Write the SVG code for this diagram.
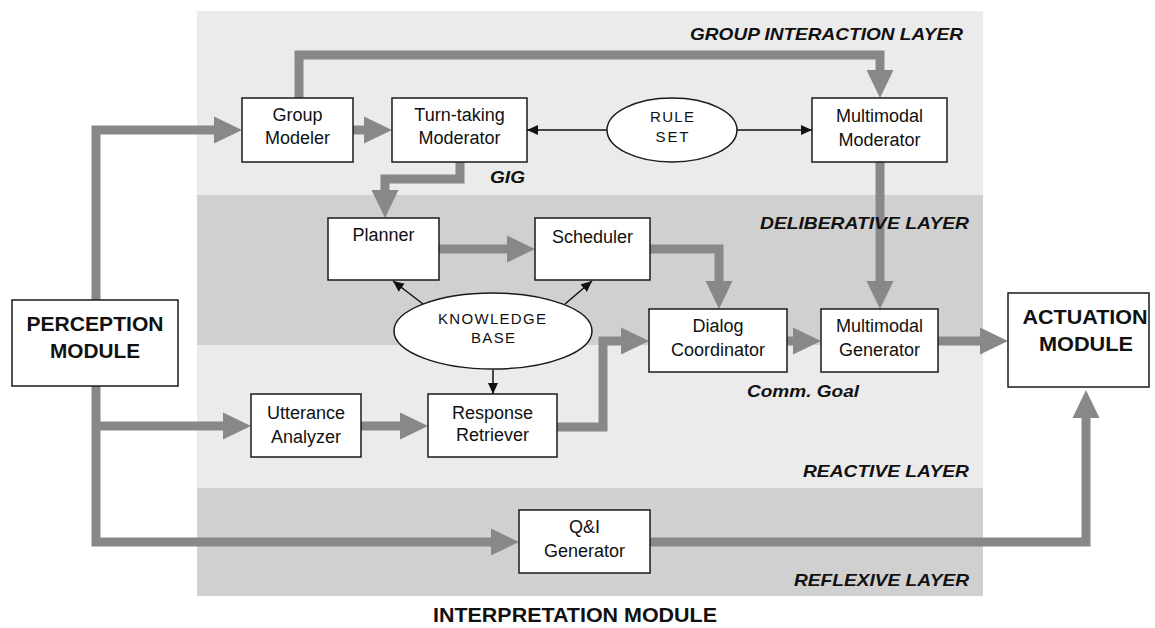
<svg xmlns="http://www.w3.org/2000/svg" width="1155" height="628" viewBox="0 0 1155 628">
<style>
.bg-light{fill:#ebebeb}
.bg-dark{fill:#d0d0d0}
.box{fill:#fff;stroke:#1a1a1a;stroke-width:1.5}
.n{font-family:"Liberation Sans",Arial,sans-serif;font-size:18px;fill:#111;text-anchor:middle}
.e{font-family:"Liberation Sans",Arial,sans-serif;font-size:15px;fill:#111;text-anchor:middle}
.m{font-family:"Liberation Sans",Arial,sans-serif;font-size:20px;font-weight:bold;fill:#111;text-anchor:middle}
.l{font-family:"Liberation Sans",Arial,sans-serif;font-size:17px;font-weight:bold;font-style:italic;fill:#111;text-anchor:end}
.thick{fill:none;stroke:#888;stroke-width:9;stroke-linejoin:miter}
.thin{fill:none;stroke:#111;stroke-width:1.5}
</style>
<defs>
<marker id="ah" markerUnits="userSpaceOnUse" markerWidth="28" markerHeight="28" viewBox="0 -14 28 28" refX="1" refY="0" orient="auto">
<path d="M0,-13.5 L28,0 L0,13.5 z" fill="#888"/>
</marker>
<marker id="sh" markerUnits="userSpaceOnUse" markerWidth="11" markerHeight="11" viewBox="0 -5.5 11 11" refX="11" refY="0" orient="auto">
<path d="M0,-5 L11,0 L0,5 z" fill="#111"/>
</marker>
</defs>
<rect width="1155" height="628" fill="#fff"/>
<g id="layers">
<rect class="bg-light" x="197" y="11" width="786" height="184"/>
<rect class="bg-dark" x="197" y="195" width="786" height="150"/>
<rect class="bg-light" x="197" y="345" width="786" height="143"/>
<rect class="bg-dark" x="197" y="488" width="786" height="108"/>
</g>
<g id="connectors">
<path class="thick" d="M96,300 V130 H215" marker-end="url(#ah)"/>
<path class="thick" d="M96,386 V542 H492" marker-end="url(#ah)"/>
<path class="thick" d="M96,426 H224" marker-end="url(#ah)"/>
<path class="thick" d="M650,542 H1086 V417" marker-end="url(#ah)"/>
<path class="thick" d="M353,130 H365" marker-end="url(#ah)"/>
<path class="thick" d="M299,98 V55 H880 V71" marker-end="url(#ah)"/>
<path class="thick" d="M460,162 V179 H385 V191" marker-end="url(#ah)"/>
<path class="thick" d="M880,162 V282" marker-end="url(#ah)"/>
<path class="thick" d="M439,249 H508" marker-end="url(#ah)"/>
<path class="thick" d="M650,249 H719 V282" marker-end="url(#ah)"/>
<path class="thick" d="M557,427 H603 V341 H622" marker-end="url(#ah)"/>
<path class="thick" d="M787,341 H794" marker-end="url(#ah)"/>
<path class="thick" d="M938,341 H981" marker-end="url(#ah)"/>
<path class="thick" d="M361,426 H401" marker-end="url(#ah)"/>
<path class="thin" d="M607,130 H527" marker-end="url(#sh)"/>
<path class="thin" d="M737,130 H812" marker-end="url(#sh)"/>
<path class="thin" d="M423,304 L393,281" marker-end="url(#sh)"/>
<path class="thin" d="M565,304 L592,281" marker-end="url(#sh)"/>
<path class="thin" d="M493,370 V394" marker-end="url(#sh)"/>
</g>
<g id="labels">
<text class="l" x="963" y="40" textLength="273" lengthAdjust="spacingAndGlyphs">GROUP INTERACTION LAYER</text>
<text class="l" x="969" y="229" textLength="209" lengthAdjust="spacingAndGlyphs">DELIBERATIVE LAYER</text>
<text class="l" x="969" y="477" textLength="166" lengthAdjust="spacingAndGlyphs">REACTIVE LAYER</text>
<text class="l" x="969" y="586" textLength="175" lengthAdjust="spacingAndGlyphs">REFLEXIVE LAYER</text>
<text class="l" x="525" y="183" textLength="35" lengthAdjust="spacingAndGlyphs">GIG</text>
<text class="l" x="859" y="397" textLength="112" lengthAdjust="spacingAndGlyphs">Comm. Goal</text>
<text class="m" x="575" y="622" font-size="19" textLength="284" lengthAdjust="spacingAndGlyphs">INTERPRETATION MODULE</text>
</g>
<g id="perception">
<rect class="box" x="12" y="300" width="166" height="86"/>
<text class="m" x="95" y="331" textLength="137" lengthAdjust="spacingAndGlyphs">PERCEPTION</text>
<text class="m" x="95" y="358" textLength="90" lengthAdjust="spacingAndGlyphs">MODULE</text>
</g>
<g id="actuation">
<rect class="box" x="1008" y="293" width="141" height="94"/>
<text class="m" x="1085" y="324" textLength="125" lengthAdjust="spacingAndGlyphs">ACTUATION</text>
<text class="m" x="1086" y="351" textLength="94" lengthAdjust="spacingAndGlyphs">MODULE</text>
</g>
<g id="group-modeler">
<rect class="box" x="242" y="98" width="111" height="64"/>
<text class="n" x="297.5" y="121">Group</text>
<text class="n" x="297.5" y="144">Modeler</text>
</g>
<g id="turn-taking-moderator">
<rect class="box" x="392" y="98" width="135" height="64"/>
<text class="n" x="459.5" y="121">Turn-taking</text>
<text class="n" x="459.5" y="144">Moderator</text>
</g>
<g id="rule-set">
<ellipse cx="672" cy="130" rx="65" ry="32" fill="#fff" stroke="#1a1a1a" stroke-width="1.5"/>
<text class="e" x="672" y="122" textLength="44" lengthAdjust="spacing">RULE</text>
<text class="e" x="672" y="142" textLength="33" lengthAdjust="spacing">SET</text>
</g>
<g id="multimodal-moderator">
<rect class="box" x="812" y="98" width="135" height="64"/>
<text class="n" x="879.5" y="122">Multimodal</text>
<text class="n" x="879.5" y="146">Moderator</text>
</g>
<g id="planner">
<rect class="box" x="328" y="218" width="111" height="62"/>
<text class="n" x="383.5" y="241">Planner</text>
</g>
<g id="scheduler">
<rect class="box" x="535" y="218" width="115" height="62"/>
<text class="n" x="592.5" y="243">Scheduler</text>
</g>
<g id="knowledge-base">
<ellipse cx="493" cy="331" rx="99" ry="38" fill="#fff" stroke="#1a1a1a" stroke-width="1.5"/>
<text class="e" x="492" y="324" textLength="108" lengthAdjust="spacing">KNOWLEDGE</text>
<text class="e" x="493" y="343" textLength="44" lengthAdjust="spacing">BASE</text>
</g>
<g id="dialog-coordinator">
<rect class="box" x="649" y="309" width="138" height="63"/>
<text class="n" x="718" y="332">Dialog</text>
<text class="n" x="718" y="356">Coordinator</text>
</g>
<g id="multimodal-generator">
<rect class="box" x="821" y="309" width="117" height="63"/>
<text class="n" x="879.5" y="332">Multimodal</text>
<text class="n" x="879.5" y="356">Generator</text>
</g>
<g id="utterance-analyzer">
<rect class="box" x="251" y="394" width="110" height="63"/>
<text class="n" x="306" y="419">Utterance</text>
<text class="n" x="306" y="443">Analyzer</text>
</g>
<g id="response-retriever">
<rect class="box" x="428" y="394" width="129" height="63"/>
<text class="n" x="492.5" y="419">Response</text>
<text class="n" x="492.5" y="441">Retriever</text>
</g>
<g id="qi-generator">
<rect class="box" x="519" y="510" width="131" height="63"/>
<text class="n" x="584.5" y="533">Q&amp;I</text>
<text class="n" x="584.5" y="557">Generator</text>
</g>
</svg>
